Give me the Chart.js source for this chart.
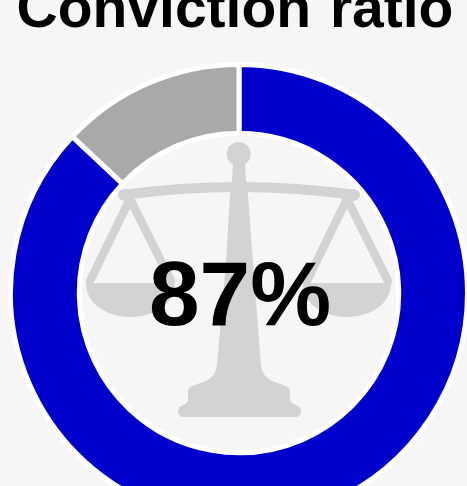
<!DOCTYPE html>
<html>
<head>
<meta charset="utf-8">
<title>Conviction ratio</title>
<script src="https://cdn.jsdelivr.net/npm/chart.js@4"></script>
<style>
  html, body { margin: 0; padding: 0; width: 467px; height: 486px; overflow: hidden; background: #f6f6f6; }
  #wrap { position: relative; width: 467px; height: 486px; overflow: hidden; font-family: "Liberation Sans", Arial, sans-serif; font-weight: bold; color: #000; }
  #icon { position: absolute; left: 0; top: 0; }
  #graficoRatio { position: absolute; left: 8px; top: 62px; }
  #titulo { position: absolute; left: 0; width: 470px; top: -33px; line-height: 80px; font-size: 57px; word-spacing: 3px; text-align: center; white-space: nowrap; }
  #centro { position: absolute; left: 0; width: 480px; top: 239px; line-height: 110px; font-size: 91px; text-align: center; }
</style>
</head>
<body>
<div id="wrap">
  <!-- icono de fondo (balanza) -->
  <svg id="icon" width="467" height="486" viewBox="0 0 467 486">
    <g fill="#d3d3d3" stroke="none">
      <circle cx="238.7" cy="154" r="12"/>
      <path d="M233 164 L245 164 L246 180 L248 195 L253 263 L261 365 Q262 376 272 381 L286 386 Q290 388 290 392 L290 400 Q291 403 296 405 Q301 407 301 411 Q301 417 295 417 L184 417 Q178 417 178 411 Q178 407 183 405 Q188 403 188 400 L188 392 Q188 388 192 386 L206 381 Q216 376 217 365 L226 263 L230 195 L232 180 Z"/>
      <path d="M86 283 L175 283 C175 305 153 317 131 317 C108 317 86 305 86 283 Z"/>
      <path d="M303 283 L391 283 C391 305 369 317 347 317 C325 317 303 305 303 283 Z"/>
      <circle cx="125" cy="195" r="6"/>
      <circle cx="353" cy="195" r="6"/>
    </g>
    <g fill="none" stroke="#d3d3d3" stroke-linecap="round" stroke-linejoin="round">
      <path d="M123 195 Q239 179 355 195" stroke-width="10"/>
      <path d="M130 199 L90 281 M130 199 L171 281 M347 199 L307 281 M347 199 L388 281" stroke-width="8.5"/>
    </g>
  </svg>
  <canvas id="graficoRatio" width="462" height="462"></canvas>
  <div id="titulo">Conviction ratio</div>
  <div id="centro">87%</div>
</div>
<script>
const categorias = ['Convicted', 'Not convicted'];
const valores = [87, 13];
const colores = ['#0000cc', '#a9a9a9'];

const ctx = document.getElementById('graficoRatio').getContext('2d');

new Chart(ctx, {
  type: 'doughnut',
  data: {
    labels: categorias,
    datasets: [
      {
        data: valores,
        backgroundColor: colores,
        borderColor: '#ffffff',
        borderWidth: 5
      }
    ]
  },
  options: {
    responsive: false,
    animation: false,
    cutout: '69.9%',
    plugins: {
      legend: { display: false },
      tooltip: { enabled: false }
    }
  }
});
</script>
</body>
</html>
